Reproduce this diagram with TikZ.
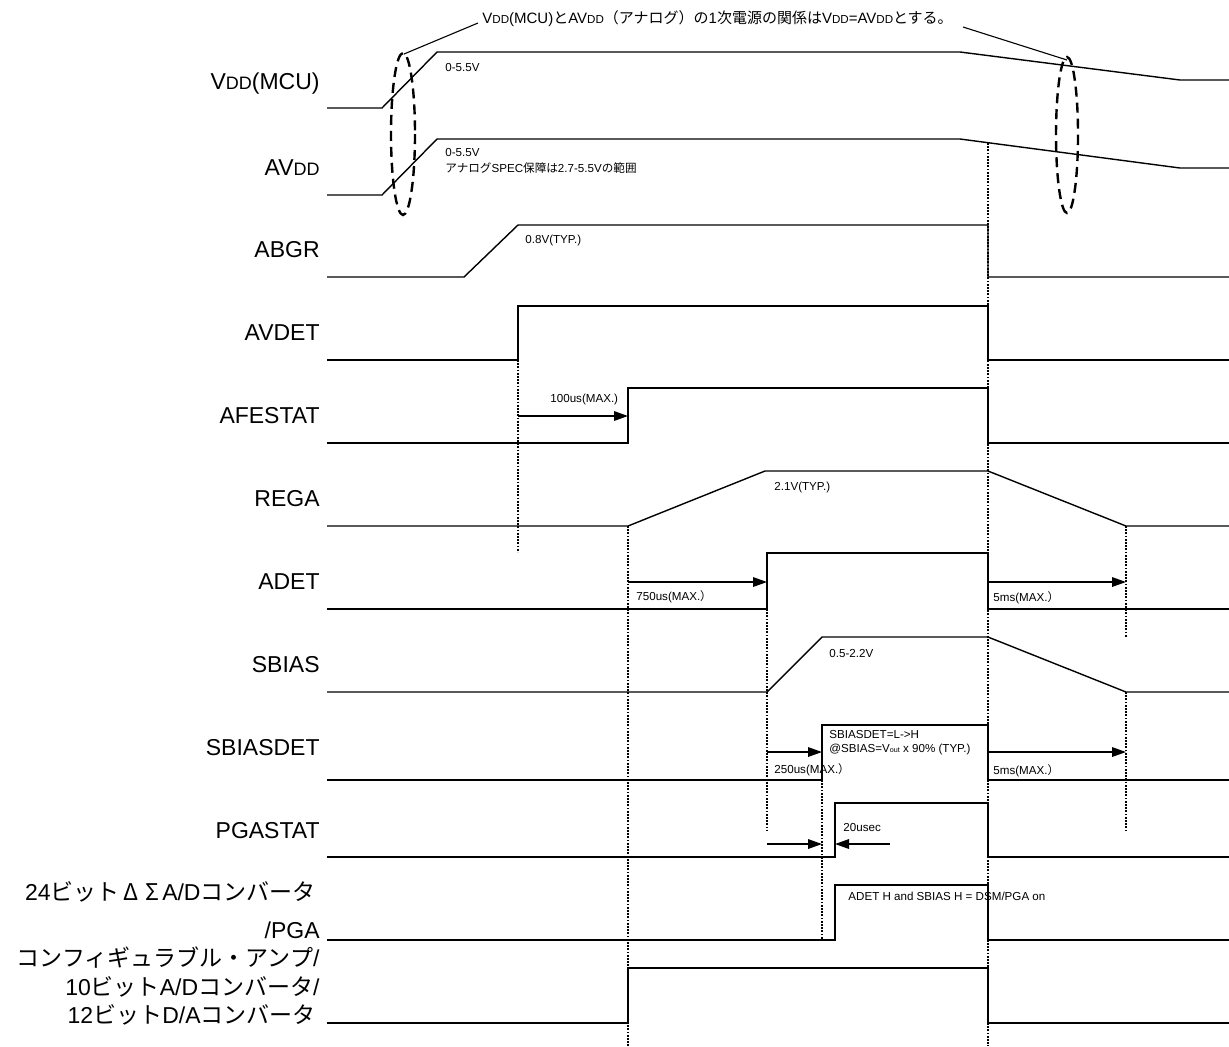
\documentclass[tikz,border=0pt]{standalone}
\usepackage{fontspec}
\setmainfont{Liberation Sans}
\newfontfamily\jp{Noto Sans CJK JP}
\usetikzlibrary{arrows.meta}
\newcommand{\bigdd}{{\fontsize{9}{10}\selectfont DD}}
\newcommand{\anndd}{{\fontsize{5.8}{6}\selectfont DD}}
\tikzset{
  sig/.style={line width=0.7pt, line join=miter},
  guide/.style={line width=1pt, dash pattern=on 0.9pt off 0.7pt},
  arr/.style={line width=0.7pt, -{Triangle[length=7pt,width=4.8pt]}},
  oval/.style={line width=1.2pt, dash pattern=on 5pt off 3pt},
  lead/.style={line width=0.55pt},
  lbl/.style={anchor=base east, inner sep=0, font=\fontsize{11.5}{13}\selectfont},
  note/.style={anchor=west, inner sep=0, font=\fontsize{5.8}{7}\selectfont},
  ann/.style={anchor=west, inner sep=0, font=\fontsize{7.5}{9}\selectfont},
}
\begin{document}
\begin{tikzpicture}[x=0.5pt,y=-0.5pt]
\useasboundingbox (0,0) rectangle (1229,1046);

% ---- signal labels ----
\node[lbl] (lvdd)   at (320,89)  {V\bigdd(MCU)};
\node[lbl] (lavdd)  at (320,175) {AV\bigdd};
\node[lbl] (labgr)  at (320,257) {ABGR};
\node[lbl] (lavdet) at (320,340) {AVDET};
\node[lbl] (lafe)   at (320,423) {AFESTAT};
\node[lbl] (lrega)  at (320,506) {REGA};
\node[lbl] (ladet)  at (320,589) {ADET};
\node[lbl] (lsbias) at (320,672) {SBIAS};
\node[lbl] (lsbd)   at (320,755) {SBIASDET};
\node[lbl] (lpga)   at (320,838) {PGASTAT};
\node[lbl] (ldsma)  at (316,900) {24{\jp ビット}\makebox[1em]{\jp Δ}\makebox[0.85em]{\jp Σ}A/D{\jp コンバータ}};
\node[lbl] (ldsmb)  at (320,938) {/PGA};
\node[lbl] (lcfa)   at (320,966) {{\jp コンフィギュラブル・アンプ}/};
\node[lbl] (lcfb)   at (320,995) {10{\jp ビット}A/D{\jp コンバータ}/};
\node[lbl] (lcfc)   at (316,1023) {12{\jp ビット}D/A{\jp コンバータ}};

% ---- waveforms ----
\draw[sig] (327,108)--(382,108)--(437,52)--(960,52)--(1180,80)--(1229,80);
\draw[sig] (327,195)--(382,195)--(437,139)--(960,139)--(1180,168)--(1229,168);
\draw[sig] (327,277)--(464,277)--(518,225)--(988,225)--(988,277)--(1229,277);
\draw[sig] (327,360)--(518,360)--(518,306)--(988,306)--(988,360)--(1229,360);
\draw[sig] (327,443)--(628,443)--(628,388)--(988,388)--(988,443)--(1229,443);
\draw[sig] (327,526)--(628,526)--(765,471)--(988,471)--(1126,526)--(1229,526);
\draw[sig] (327,609)--(767,609)--(767,553)--(988,553)--(988,609)--(1229,609);
\draw[sig] (327,692)--(767,692)--(822,637)--(988,637)--(1126,692)--(1229,692);
\draw[sig] (327,780)--(822,780)--(822,725)--(988,725)--(988,780)--(1229,780);
\draw[sig] (327,857)--(835,857)--(835,803)--(988,803)--(988,857)--(1229,857);
\draw[sig] (327,940)--(835,940)--(835,885)--(988,885)--(988,940)--(1229,940);
\draw[sig] (327,1023)--(628,1023)--(628,968)--(988,968)--(988,1023)--(1229,1023);

% ---- dotted guides ----
\draw[guide] (518,360)--(518,552);
\draw[guide] (628,526)--(628,1046);
\draw[guide] (988,143)--(988,1046);
\draw[guide] (767,609)--(767,830);
\draw[guide] (822,780)--(822,940);
\draw[guide] (1126,526)--(1126,637);
\draw[guide] (1126,692)--(1126,830);

% ---- timing arrows ----
\draw[arr] (518,416)--(628,416);
\draw[arr] (628,582)--(767,582);
\draw[arr] (988,582)--(1126,582);
\draw[arr] (767,752)--(822,752);
\draw[arr] (988,752)--(1126,752);
\draw[arr] (767,844)--(822,844);
\draw[arr] (890,844)--(835,844);

% ---- notes ----
\node[note] (n1) at (445,67)  {0-5.5V};
\node[note] (n2) at (445,152) {0-5.5V};
\node[note] (n3) at (445,168) {{\jp アナログ}SPEC{\jp 保障は}2.7-5.5V{\jp の範囲}};
\node[note] (n4) at (525,240) {0.8V(TYP.)};
\node[note] (n5) at (550,399) {100us(MAX.)};
\node[note] (n6) at (774,487) {2.1V(TYP.)};
\node[note] (n7) at (636,597) {750us(MAX.{\jp ）}};
\node[note] (n8) at (993,598) {5ms(MAX.{\jp ）}};
\node[note] (n9) at (829,653) {0.5-2.2V};
\node[note] (n10) at (829,734) {SBIASDET=L->H};
\node[note] (n11) at (829,749) {@SBIAS=V{\fontsize{3.6}{4}\selectfont out} x 90\% (TYP.)};
\node[note] (n12) at (774,770) {250us(MAX.{\jp ）}};
\node[note] (n13) at (993,771) {5ms(MAX.{\jp ）}};
\node[note] (n14) at (843,827) {20usec};
\node[note] (n15) at (848,896) {ADET H and SBIAS H = DSM/PGA on};

% ---- annotation ----
\node[ann] (top) at (482,19) {V\anndd(MCU){\jp と}AV\anndd{\jp （アナログ）の}1{\jp 次電源の関係は}V\anndd=AV\anndd{\jp とする。}};
\draw[oval] (403,134) ellipse [x radius=12, y radius=81];
\draw[oval] (1067,135) ellipse [x radius=11, y radius=78];
\coordinate (lefttip) at (404,54);
\coordinate (righttip) at (1067,60);
\coordinate (leftfoot) at (478,23);
\coordinate (rightfoot) at (963,27);
\draw[lead] (leftfoot)--(lefttip);
\draw[lead] (rightfoot)--(righttip);
\end{tikzpicture}
\end{document}
